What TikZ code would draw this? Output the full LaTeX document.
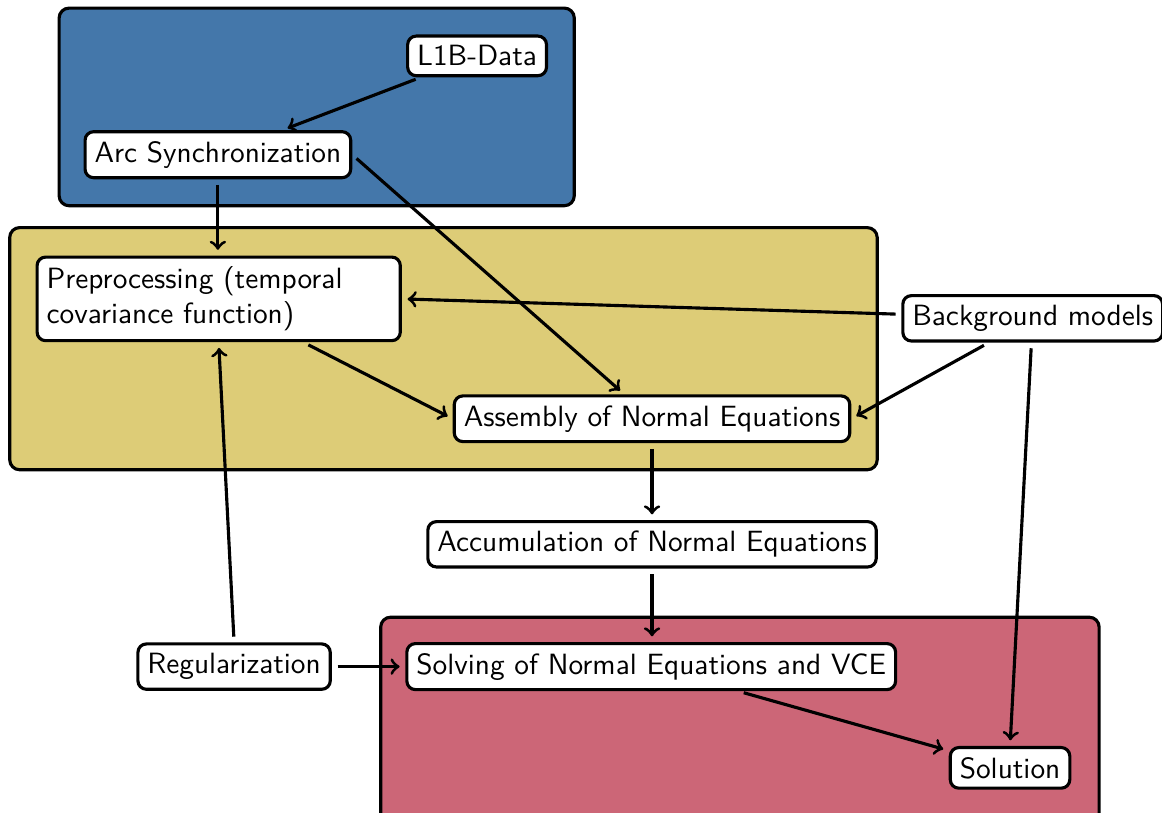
\documentclass[tikz,border=0pt]{standalone}
\usepackage{fontspec}
\usepackage{tikz}
\usetikzlibrary{calc}
\usetikzlibrary{positioning}
\definecolor{tolblue}{HTML}{4477AA}
\definecolor{tolsand}{HTML}{DDCC77}
\definecolor{tolrose}{HTML}{CC6677}
\tikzset{
  blk/.style={draw=black, line width=1.1pt, fill=white, rounded corners=3pt, font=\sffamily\fontsize{10.3pt}{12.4pt}\selectfont},
  grp/.style={draw=black, line width=1.1pt, rounded corners=3.5pt},
  conn/.style={black, line width=1.1pt, ->, shorten >=2pt, shorten <=2pt}
}

\begin{document}
\begin{tikzpicture}
\useasboundingbox (0,0) rectangle (14.346,-10.037);
% groups
\draw[grp, fill=tolblue] (0.73,-0.10) rectangle (7.09,-2.54);
\draw[grp, fill=tolsand] (0.12,-2.81) rectangle (10.83,-5.80);
\draw[grp, fill=tolrose] (4.70,-7.62) rectangle (13.57,-10.30);
% nodes
\node[blk] (l1b) at (5.89,-0.69) {L1B-Data};
\node[blk] (arcsync) at (2.69,-1.91) {Arc Synchronization};
\node[blk, text width=4.25cm, align=left] (preproc) at (2.70,-3.69) {Preprocessing (temporal covariance function)};
\node[blk] (bgmodels) at (12.75,-3.93) {Background models};
\node[blk] (assembly) at (8.05,-5.17) {Assembly of Normal Equations};
\node[blk] (accum) at (8.05,-6.72) {Accumulation of Normal Equations};
\node[blk] (regular) at (2.89,-8.23) {Regularization};
\node[blk] (solving) at (8.04,-8.23) {Solving of Normal Equations and VCE};
\node[blk] (solution) at (12.47,-9.48) {Solution};
% connectors
\draw[conn] (l1b) -- (arcsync);
\draw[conn] (arcsync) -- (arcsync |- preproc.north);
\draw[conn] (arcsync.east) -- (assembly);
\draw[conn] (preproc) -- (assembly.west);
\draw[conn] (bgmodels) -- (preproc.east);
\draw[conn] (bgmodels) -- (assembly.east);
\draw[conn] (bgmodels) -- (solution.north);
\draw[conn] (assembly) -- (accum);
\draw[conn] (accum) -- (accum |- solving.north);
\draw[conn] (regular) -- (solving);
\draw[conn] (regular.north) -- (preproc.south);
\draw[conn] (solving) -- (solution);
\end{tikzpicture}
\end{document}
